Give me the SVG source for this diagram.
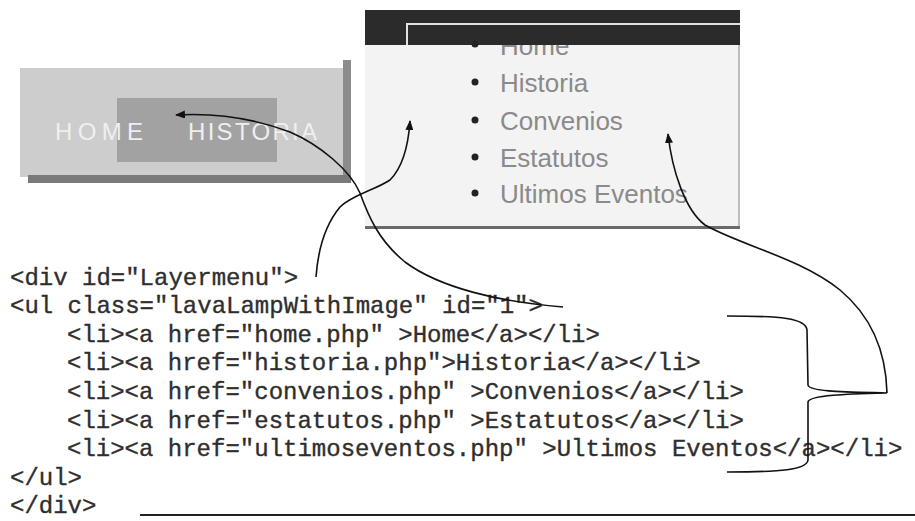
<svg xmlns="http://www.w3.org/2000/svg" width="915" height="521" viewBox="0 0 915 521">
  <style>
    .code { font-family: "Liberation Mono", "DejaVu Sans Mono", monospace; font-size: 24px; fill: #2e2e2e; stroke: #2e2e2e; stroke-width: 0.35; }
    .menu { font-family: "Liberation Sans", Arial, sans-serif; font-size: 26px; fill: #8a8a8a; }
    .lava { font-family: "Liberation Sans", Arial, sans-serif; font-size: 24px; fill: #efefef; }
    .link { fill: none; stroke: #111; stroke-width: 1.6; }
    .bullet { fill: #222; }
  </style>
  <defs>
    <marker id="head" viewBox="0 0 10 8" refX="9" refY="4" markerWidth="10" markerHeight="8" markerUnits="userSpaceOnUse" orient="auto">
      <path d="M0,0 L10,4 L0,8 Z" fill="#111"/>
    </marker>
  </defs>

  <rect width="915" height="521" fill="#ffffff"/>

  <!-- horizontal lava-lamp menu -->
  <g id="lava-menu">
    <rect x="20" y="68" width="325" height="109" fill="#cdcdcd"/>
    <rect x="343" y="60" width="8" height="123" fill="#8c8c8c"/>
    <rect x="28" y="175" width="323" height="8" fill="#7a7a7a"/>
    <rect x="117" y="98" width="160" height="64" fill="#a2a2a2"/>
    <text class="lava" x="55" y="140" textLength="88" lengthAdjust="spacing">HOME</text>
    <text class="lava" x="188" y="140" textLength="129" lengthAdjust="spacing">HISTORIA</text>
  </g>

  <!-- vertical list menu -->
  <g id="list-menu">
    <rect x="365" y="10" width="375" height="219" fill="#f3f3f3"/>
    <rect x="738" y="10" width="2" height="219" fill="#bdbdbd"/>
    <rect x="365" y="226" width="375" height="3" fill="#6a6a6a"/>
    <text class="menu" x="500" y="55">Home</text>
    <rect x="365" y="10" width="375" height="35" fill="#2b2b2b"/>
    <path d="M407,45 V24 H740" fill="none" stroke="#e2e2e2" stroke-width="2"/>
    <circle class="bullet" cx="475" cy="44" r="3.5"/>
    <circle class="bullet" cx="475" cy="82" r="3.5"/>
    <circle class="bullet" cx="475" cy="120" r="3.5"/>
    <circle class="bullet" cx="475" cy="157" r="3.5"/>
    <circle class="bullet" cx="475" cy="193" r="3.5"/>
    <text class="menu" x="500" y="92">Historia</text>
    <text class="menu" x="500" y="130">Convenios</text>
    <text class="menu" x="500" y="167">Estatutos</text>
    <text class="menu" x="500" y="203">Ultimos Eventos</text>
  </g>

  <!-- HTML source of the menu -->
  <g id="source">
    <text class="code" x="10" y="285">&lt;div id="Layermenu"&gt;</text>
    <text class="code" x="10" y="313">&lt;ul class="lavaLampWithImage" id="1"&gt;</text>
    <text class="code" x="67" y="342">&lt;li&gt;&lt;a href="home.php" &gt;Home&lt;/a&gt;&lt;/li&gt;</text>
    <text class="code" x="67" y="370">&lt;li&gt;&lt;a href="historia.php"&gt;Historia&lt;/a&gt;&lt;/li&gt;</text>
    <text class="code" x="67" y="399">&lt;li&gt;&lt;a href="convenios.php" &gt;Convenios&lt;/a&gt;&lt;/li&gt;</text>
    <text class="code" x="67" y="428">&lt;li&gt;&lt;a href="estatutos.php" &gt;Estatutos&lt;/a&gt;&lt;/li&gt;</text>
    <text class="code" x="67" y="456">&lt;li&gt;&lt;a href="ultimoseventos.php" &gt;Ultimos Eventos&lt;/a&gt;&lt;/li&gt;</text>
    <text class="code" x="10" y="485">&lt;/ul&gt;</text>
    <text class="code" x="10" y="513">&lt;/div&gt;</text>
    <line x1="140" y1="515" x2="915" y2="515" stroke="#222" stroke-width="2"/>
  </g>

  <!-- connectors -->
  <g id="connectors">
    <!-- ul -> horizontal menu -->
    <path class="link" marker-end="url(#head)" d="M563,307 C500,302 440,288 405,262 C378,240 368,215 360,193 C350,170 320,145 290,132 C250,117 210,113 176,115"/>
    <!-- div -> list menu -->
    <path class="link" marker-end="url(#head)" d="M316,277 C318,250 325,225 340,207 C352,195 375,190 390,180 C402,168 408,150 410,121"/>
    <!-- brace over the li items -->
    <path class="link" d="M727,316 C780,316 806,318 807,330 L808,385 C809,392 850,392 887,393 C850,394 809,395 808,402 L808,460 C807,470 780,472 727,472"/>
    <!-- li items -> list entries -->
    <path class="link" marker-end="url(#head)" d="M887,393 C886,350 870,315 840,290 C800,258 740,245 705,225 C685,210 672,170 668,134"/>
  </g>
</svg>
